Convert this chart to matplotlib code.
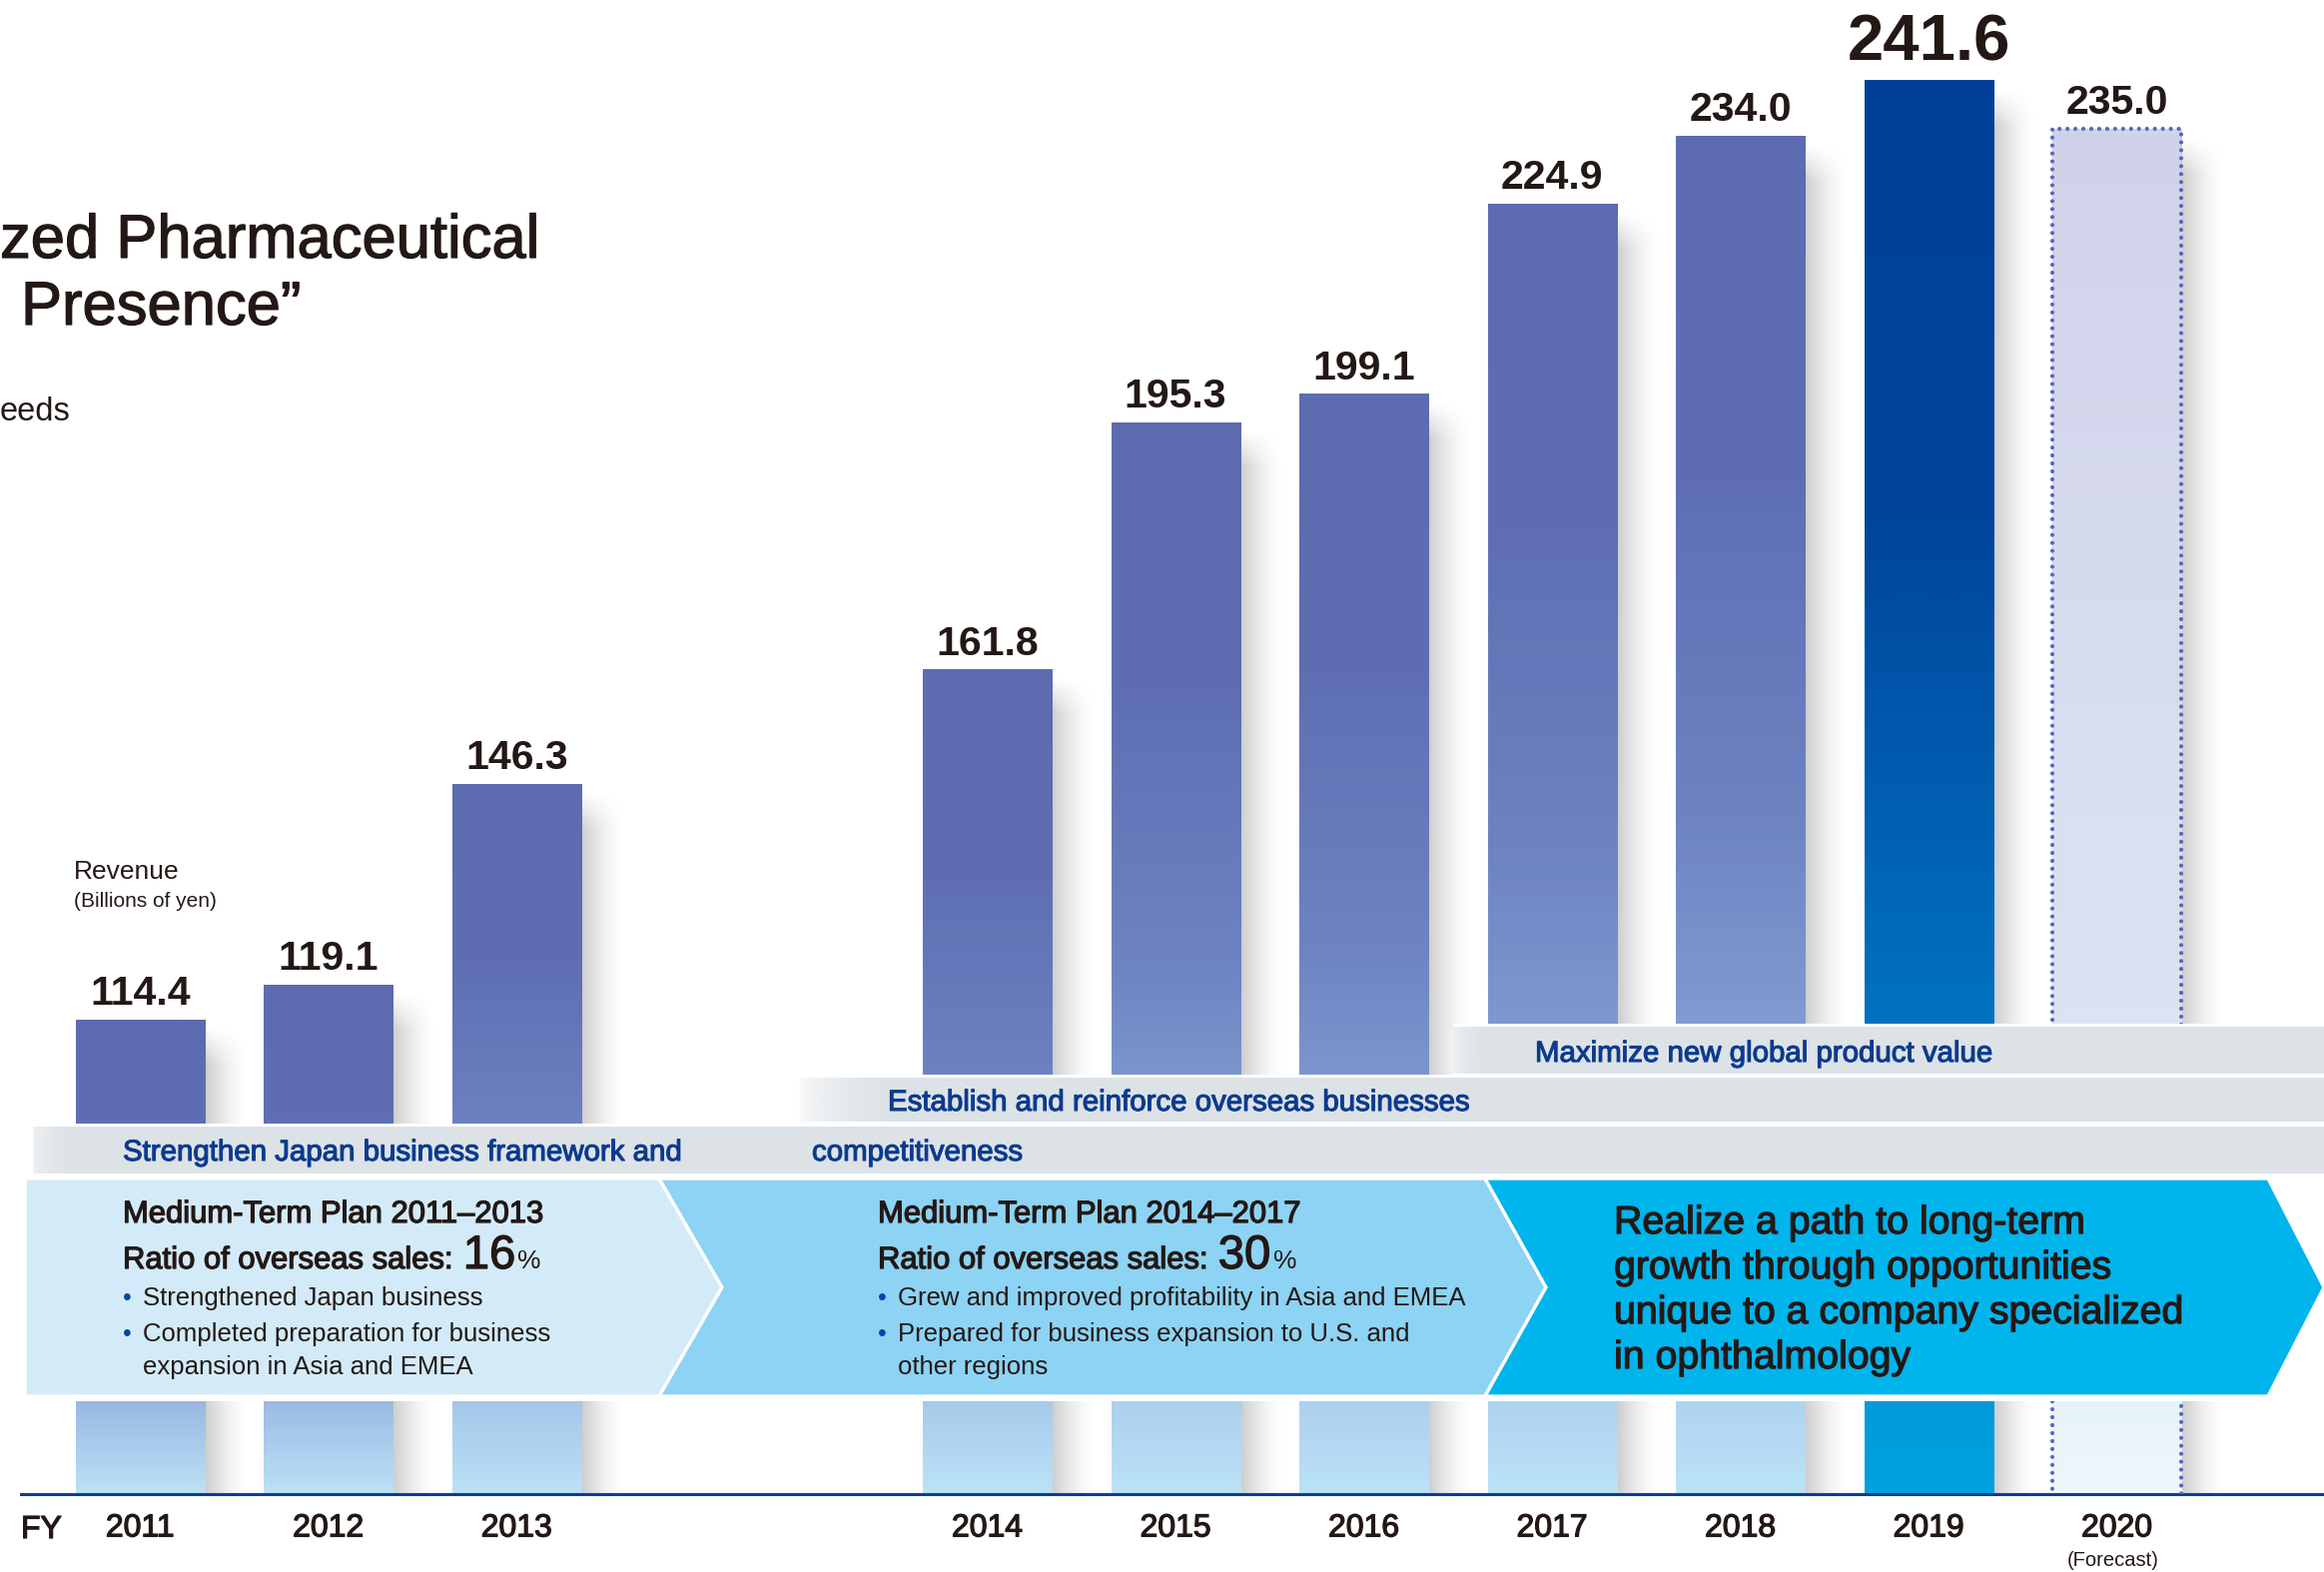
import numpy as np
import matplotlib.pyplot as plt
import matplotlib.patheffects as pe
from matplotlib.colors import LinearSegmentedColormap, to_rgb
from matplotlib.patches import Polygon, Rectangle

plt.rcParams['font.family'] = ['Liberation Sans', 'DejaVu Sans']

# data
years = ['2011', '2012', '2013', '2014', '2015', '2016', '2017', '2018', '2019', '2020']
revenue = [114.4, 119.1, 146.3, 161.8, 195.3, 199.1, 224.9, 234.0, 241.6, 235.0]
highlight_year = '2019'
forecast_year = '2020'
# category slots, with a gap between the first and second plan
slots = [0, 1, 2, 4.5, 5.5, 6.5, 7.5, 8.5, 9.5, 10.5]

band_texts = ['Maximize new global product value',
              'Establish and reinforce overseas businesses',
              'Strengthen Japan business framework and',
              'competitiveness']
plan1_title = 'Medium-Term Plan 2011\u20132013'
plan1_ratio = '16'
plan1_bullets = [['Strengthened Japan business'],
                 ['Completed preparation for business', 'expansion in Asia and EMEA']]
plan2_title = 'Medium-Term Plan 2014\u20132017'
plan2_ratio = '30'
plan2_bullets = [['Grew and improved profitability in Asia and EMEA'],
                 ['Prepared for business expansion to U.S. and', 'other regions']]
plan3_lines = ['Realize a path to long-term',
               'growth through opportunities',
               'unique to a company specialized',
               'in ophthalmology']

W, H = 2327, 1574
DARK = '#231815'
NAVY = '#0b3b8f'
medium = [pe.withStroke(linewidth=0.9, foreground=DARK)]

fig = plt.figure(figsize=(W / 100, H / 100), dpi=100)

# ---- bars ----
ax = fig.add_axes([0, 78 / H, 1, 1496 / H])
ax.set_xlim(-0.744, 11.60)
ax.set_ylim(50.2, 252.41)
ax.patch.set_alpha(0)
for s in ['top', 'left', 'right']:
    ax.spines[s].set_visible(False)
ax.spines['bottom'].set_color('#0b3e91')
ax.spines['bottom'].set_linewidth(2.2)
ax.spines['bottom'].set_bounds(-0.632, 11.6)
ax.set_yticks([])

cm_normal = LinearSegmentedColormap.from_list('n', [(0, '#5d6bb1'), (0.25, '#5f6eb3'), (0.5, '#6d83c2'),
                                                    (0.65, '#7f9bd0'), (0.8, '#98b6e0'), (1, '#bae2f7')])
cm_high = LinearSegmentedColormap.from_list('h', [(0, '#003f98'), (0.3, '#00449c'), (0.65, '#0070bf'),
                                                  (0.9, '#0097d7'), (1, '#00a1df')])
cm_fc = LinearSegmentedColormap.from_list('f', [(0, '#d0d2ea'), (0.65, '#dde3f3'), (0.93, '#e6f2fb'),
                                                (1, '#edf7fd')])

bw = 0.685
base = ax.get_ylim()[0]
grad = np.linspace(0, 1, 256).reshape(-1, 1)
hx = (1 - np.linspace(0, 1, 64)) ** 1.6

for x, v, y in zip(slots, revenue, years):
    cm = cm_high if y == highlight_year else (cm_fc if y == forecast_year else cm_normal)
    rect = ax.bar(x, v, width=bw, color=cm(0.0), zorder=2)[0]
    im = ax.imshow(grad, cmap=cm, extent=[x - bw / 2, x + bw / 2, base, v], aspect='auto',
                   origin='upper', zorder=2.5, interpolation='bilinear')
    im.set_clip_path(rect)
    # soft drop shadow on the right
    rows = 300
    vy = np.clip(np.arange(rows) / rows * (v - base) / 5.0, 0, 1)
    shade = np.zeros((rows, 64, 4))
    shade[..., 3] = 0.2 * vy[:, None] * hx[None, :]
    ax.imshow(shade, extent=[x + bw / 2, x + bw / 2 + 0.24, base, v - 1.0], aspect='auto',
              origin='upper', zorder=1)
    if y == forecast_year:
        edge = ax.bar(x, v, width=bw, fill=False, edgecolor='#5566bb', linewidth=3.0,
                      linestyle=(0, (0.01, 1.9)), zorder=3)[0]
        edge.set_capstyle('round')
    big = y == highlight_year
    ax.text(x, v + (2.6 if big else 2.0), f'{v:.1f}', ha='center', va='baseline',
            fontsize=47 if big else 29.5, fontweight='bold', color=DARK, zorder=4)

ax.set_xlim(-0.744, 11.60)
ax.set_ylim(50.2, 252.41)
ax.set_xticks(slots, years)
ax.tick_params(axis='x', length=0, pad=14, labelsize=23, labelcolor=DARK)
for lbl in ax.get_xticklabels():
    lbl.set_path_effects(medium)

# ---- overlay: bands, arrows, texts (pixel coordinates) ----
ov = fig.add_axes([0, 0, 1, 1], zorder=5)
ov.patch.set_alpha(0)
ov.axis('off')
ov.set_xlim(0, W)
ov.set_ylim(H, 0)


def band(x0, fade, a0, y0, y1, color='#dde2e7'):
    ov.add_patch(Rectangle((x0, y0 - 3), W, y1 - y0 + 6, color='white', lw=0, zorder=1))
    img = np.zeros((1, 100, 4))
    img[..., :3] = to_rgb(color)
    img[..., 3] = a0 + (1 - a0) * np.sqrt(np.linspace(0, 1, 100))
    ov.imshow(img, extent=[x0, x0 + fade, y1, y0], aspect='auto', interpolation='bilinear',
              zorder=1.5)
    ov.add_patch(Rectangle((x0 + fade - 1, y0), W, y1 - y0, color=color, lw=0, zorder=1.5))


band(1455, 31, 0.4, 1028, 1075)
band(800, 90, 0.05, 1079, 1123)
band(33, 42, 0.4, 1128, 1175)

ov.add_patch(Rectangle((0, 1175), W, 228, color='white', lw=0, zorder=1.6))
top, bot, mid = 1180, 1398, 1289
arrows = [
    ([(25, top), (660, top), (723, mid), (660, bot), (25, bot)], '#d3ebf9'),
    ([(660, top), (1487, top), (1548, mid), (1487, bot), (660, bot), (723, mid)], '#8dd3f4'),
    ([(1487, top), (2271, top), (2327, mid), (2271, bot), (1487, bot), (1548, mid)], '#00b4ec'),
]
for pts, c in arrows:
    ov.add_patch(Polygon(pts, closed=True, facecolor=c, edgecolor='white', lw=2.4, zorder=1.8))

band_kw = dict(fontsize=21.2, color=NAVY, va='baseline',
               path_effects=[pe.withStroke(linewidth=0.8, foreground=NAVY)])
ov.text(1537, 1063, band_texts[0], **band_kw)
ov.text(889, 1112, band_texts[1], **band_kw)
ov.text(123, 1162, band_texts[2], **band_kw)
ov.text(813, 1162, band_texts[3], **band_kw)

renderer = fig.canvas.get_renderer()


def plan(x, title, pct, bullets):
    ov.text(x, 1224, title, fontsize=22.3, color=DARK, va='baseline', path_effects=medium)
    t = ov.text(x, 1270, 'Ratio of overseas sales:', fontsize=22.3, color=DARK, va='baseline',
                path_effects=medium)
    x1 = ov.transData.inverted().transform((t.get_window_extent(renderer).x1, 0))[0] + 9
    t2 = ov.text(x1, 1270, pct, fontsize=34, color=DARK, va='baseline', path_effects=medium)
    x2 = ov.transData.inverted().transform((t2.get_window_extent(renderer).x1, 0))[0] + 2
    ov.text(x2, 1270, '%', fontsize=19, color=DARK, va='baseline')
    ys = iter([1307, 1343, 1376])
    for item in bullets:
        for k, line in enumerate(item):
            yb = next(ys)
            if k == 0:
                ov.text(x, yb, '\u2022', fontsize=18, color='#0046a8', va='baseline')
            ov.text(x + 20, yb, line, fontsize=18.5, color=DARK, va='baseline')


plan(123, plan1_title, plan1_ratio, plan1_bullets)
plan(879, plan2_title, plan2_ratio, plan2_bullets)

for yb, line in zip([1235, 1280, 1325, 1370], plan3_lines):
    ov.text(1616, yb, line, fontsize=28.3, color=DARK, va='baseline', path_effects=medium)

# headings and labels
ov.text(0, 258, 'zed Pharmaceutical', fontsize=44.3, color=DARK, va='baseline', path_effects=medium)
ov.text(21, 325, 'Presence\u201d', fontsize=44.3, color=DARK, va='baseline', path_effects=medium)
ov.text(0, 421, 'eeds', fontsize=23.5, color=DARK, va='baseline')
ov.text(74, 880, 'Revenue', fontsize=19, color=DARK, va='baseline')
ov.text(74, 908, '(Billions of yen)', fontsize=15, color=DARK, va='baseline')
ov.text(21, 1540, 'FY', fontsize=23, color=DARK, va='baseline', path_effects=medium)
ov.text(2116, 1568, '(Forecast)', fontsize=14.5, color=DARK, va='baseline', ha='center')

ov.set_xlim(0, W)
ov.set_ylim(H, 0)

fig.savefig('out.png', dpi=100)
